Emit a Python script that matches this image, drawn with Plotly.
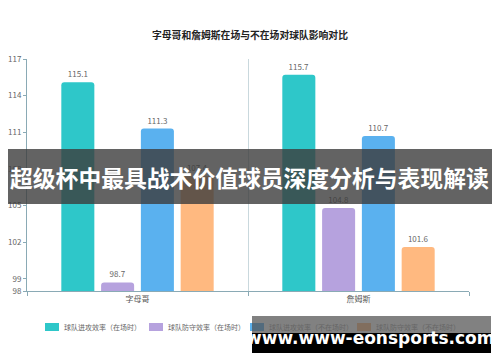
import plotly.graph_objects as go

title = "字母哥和詹姆斯在场与不在场对球队影响对比"
categories = ["字母哥", "詹姆斯"]
series_names = ["球队进攻效率（在场时）", "球队防守效率（在场时）", "球队进攻效率（不在场时）", "球队防守效率（不在场时）"]
off_on = [115.1, 115.7]
def_on = [98.7, 104.8]
off_off = [111.3, 110.7]
def_off = [107.4, 101.6]
y_ticks = [98, 99, 102, 105, 108, 111, 114, 117]
banner_text = "超级杯中最具战术价值球员深度分析与表现解读"
watermark_text = "www.www-eonsports.com"

colors = ["#2ec7c9", "#b6a2de", "#5ab1ef", "#ffb980"]
axis_color = "#8aaab5"
font_cjk = "Noto Sans CJK SC"

fig = go.Figure()
for name, vals, c in zip(series_names, [off_on, def_on, off_off, def_off], colors):
    fig.add_trace(go.Bar(
        x=categories, y=vals, name=name, marker_color=c, marker_line_width=0,
        text=[f"{v:.1f}" for v in vals], textposition="outside",
        textfont=dict(size=8, color="#666", family=font_cjk),
        cliponaxis=False,
    ))

W, H = 500, 362
L, R, T, B = 27, 469, 59, 291

def px(x):
    return (x - L) / (R - L)

def py(y):
    return (B - y) / (B - T)

fig.update_layout(
    width=W, height=H,
    margin=dict(l=L, r=W - R, t=T, b=H - B, autoexpand=False),
    plot_bgcolor="white", paper_bgcolor="white",
    barmode="group", bargap=0.28, bargroupgap=0.17, barcornerradius=3,
    font=dict(family=font_cjk, color="#333"),
    title=dict(text="<b>" + title + "</b>", x=0.5, xanchor="center", y=1 - 36 / H, yanchor="middle",
               font=dict(size=9.8, color="#222", family=font_cjk)),
    showlegend=False,
    xaxis=dict(showline=True, linecolor=axis_color, linewidth=1, ticks="outside", tickson="boundaries",
               ticklen=4, tickcolor=axis_color, showgrid=True, gridcolor="#c9d8dd", gridwidth=1,
               tickfont=dict(size=8, color="#555"), mirror=False, automargin=False),
    yaxis=dict(range=[98, 117], tickvals=y_ticks, showline=True, linecolor=axis_color, linewidth=1,
               ticks="outside", ticklen=3, tickcolor=axis_color, showgrid=False, zeroline=False,
               tickfont=dict(size=8, color="#666"), automargin=False),
)

# legend drawn as shapes + annotations (single row as in the reference)
legend_x = [45, 149, 250, 357]
legend_y = 327
for name, c, lx in zip(series_names, colors, legend_x):
    fig.add_shape(type="rect", xref="paper", yref="paper", x0=px(lx), x1=px(lx + 14),
                  y0=py(legend_y + 4), y1=py(legend_y - 4), fillcolor=c, line_width=0)
    fig.add_annotation(xref="paper", yref="paper", x=px(lx + 17), y=py(legend_y), text=name,
                       showarrow=False, xanchor="left", yanchor="middle",
                       font=dict(size=7, color="#666", family=font_cjk))

# banner overlay
fig.add_shape(type="rect", xref="paper", yref="paper", x0=px(8), x1=px(492), y0=py(204), y1=py(149),
              fillcolor="rgba(60,60,60,0.8)", line_width=0, layer="above")
fig.add_annotation(xref="paper", yref="paper", x=px(249.5), y=py(177), text="<b>" + banner_text + "</b>",
                   showarrow=False, font=dict(size=22.8, color="white", family=font_cjk),
                   xanchor="center", yanchor="middle")

# watermark
fig.add_shape(type="rect", xref="paper", yref="paper", x0=px(252), x1=px(491), y0=py(333), y1=py(316),
              fillcolor="rgba(80,80,80,0.72)", line_width=0, layer="above")
fig.add_shape(type="rect", xref="paper", yref="paper", x0=px(252), x1=px(491), y0=py(353), y1=py(333),
              fillcolor="black", line_width=0, layer="above")
fig.add_annotation(xref="paper", yref="paper", x=px(370), y=py(338), text="<b>" + watermark_text + "</b>",
                   showarrow=False, font=dict(size=17, color="white", family="DejaVu Sans"),
                   xanchor="center", yanchor="middle")

fig.write_html("out.html", config={"displayModeBar": False},
               post_script="document.body.style.margin='0';document.body.style.overflow='hidden';")
